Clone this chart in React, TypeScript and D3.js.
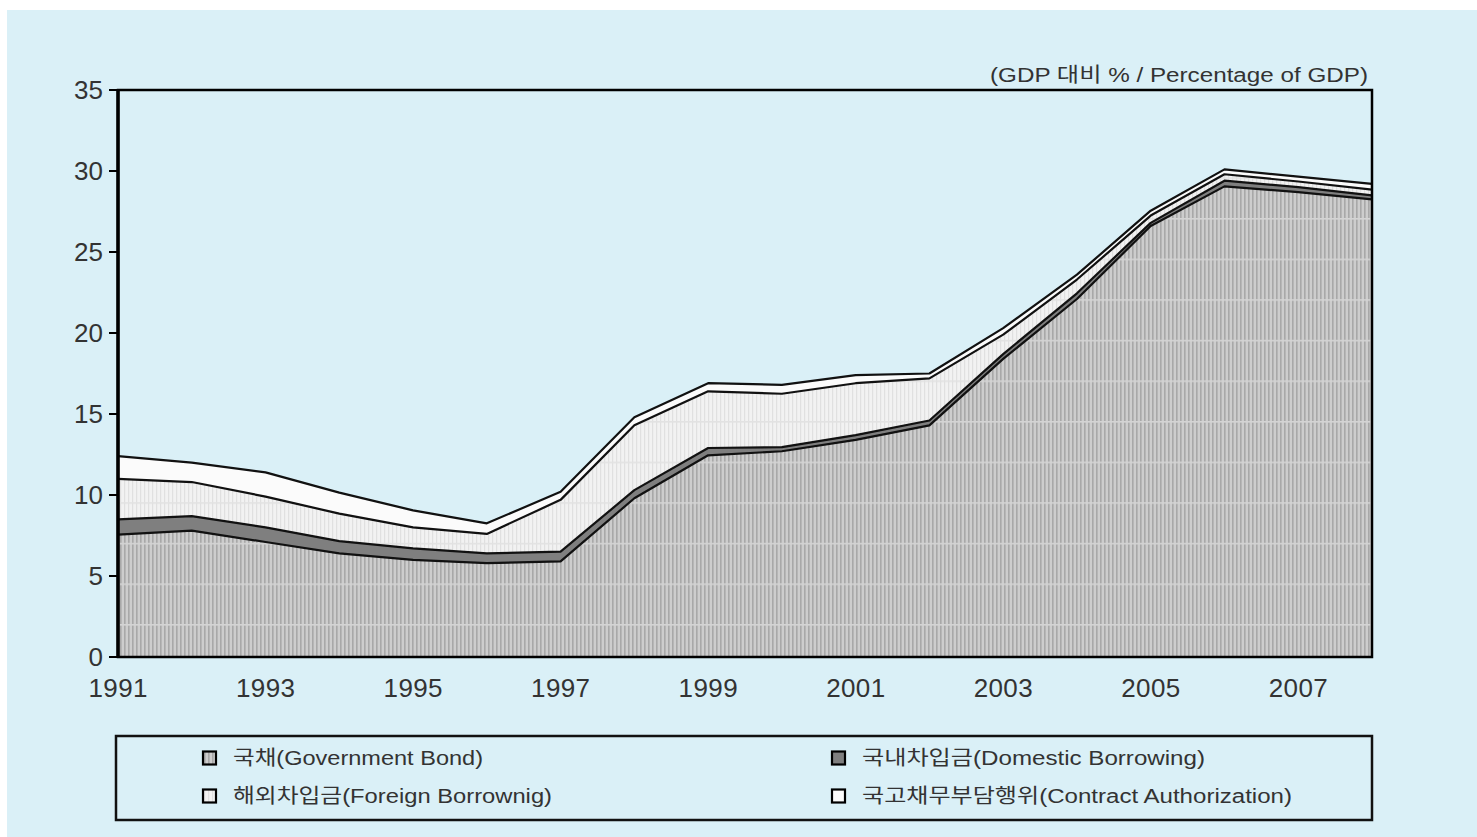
import React, { useEffect, useRef } from "react";
import * as d3 from "d3";

// years on the x axis
const years = [1991, 1992, 1993, 1994, 1995, 1996, 1997, 1998, 1999, 2000, 2001, 2002, 2003, 2004, 2005, 2006, 2007, 2008];
// % of GDP, each layer stacked on the previous one
const govBond = [7.55, 7.8, 7.1, 6.4, 6.0, 5.8, 5.9, 9.8, 12.45, 12.7, 13.4, 14.3, 18.4, 22.1, 26.6, 29.05, 28.7, 28.25];
const domesticBorrowing = [0.95, 0.9, 0.9, 0.75, 0.7, 0.6, 0.6, 0.5, 0.45, 0.25, 0.3, 0.3, 0.3, 0.35, 0.2, 0.35, 0.3, 0.25];
const foreignBorrowing = [2.5, 2.1, 1.9, 1.7, 1.3, 1.2, 3.2, 4.0, 3.5, 3.3, 3.2, 2.6, 1.2, 0.85, 0.45, 0.4, 0.35, 0.35];
const contractAuth = [1.4, 1.2, 1.5, 1.3, 1.05, 0.65, 0.5, 0.5, 0.5, 0.55, 0.5, 0.3, 0.4, 0.3, 0.3, 0.3, 0.3, 0.35];

const yTicks = [0, 5, 10, 15, 20, 25, 30, 35];
const xTickYears = [1991, 1993, 1995, 1997, 1999, 2001, 2003, 2005, 2007];
const unitLabel = "(GDP 대비 % / Percentage of GDP)";
const legendLabels = [
  "국채(Government Bond)",
  "국내차입금(Domestic Borrowing)",
  "해외차입금(Foreign Borrownig)",
  "국고채무부담행위(Contract Authorization)",
];
// the original font is wider, so stretch text to the widths seen in the picture
const legendWidths = [250, 343, 319, 430];

const keys = ["gov", "dom", "foreign", "contract"];
const fills = ["url(#pGov)", "#7f7f7f", "url(#pForeign)", "#fbfbfb"];
const font = "'Liberation Sans', 'Noto Sans CJK KR', Arial, sans-serif";

const App = () => {
  const svgRef = useRef<SVGSVGElement>(null);

  useEffect(() => {
    const svg = d3.select(svgRef.current);
    svg.selectAll("*").remove();

    const left = 118, right = 1372, top = 90, bottom = 657;

    const x = d3.scaleLinear().domain([1991, 2008]).range([left, right]);
    const y = d3.scaleLinear().domain([0, 35]).range([bottom, top]);

    const rows = years.map((yr, i) => ({
      year: yr,
      gov: govBond[i],
      dom: domesticBorrowing[i],
      foreign: foreignBorrowing[i],
      contract: contractAuth[i],
    }));
    const series = d3.stack<any>().keys(keys)(rows);

    // patterns
    const defs = svg.append("defs");
    const pg = defs.append("pattern").attr("id", "pGov")
      .attr("patternUnits", "userSpaceOnUse")
      .attr("width", 4).attr("height", 40.6).attr("y", 15);
    pg.append("rect").attr("width", 4).attr("height", 40.6).attr("fill", "#c4c4c4");
    pg.append("rect").attr("width", 1.5).attr("height", 40.6).attr("fill", "#a8a8a8");
    pg.append("rect").attr("x", 2.5).attr("width", 1).attr("height", 40.6).attr("fill", "#d6d6d6");
    pg.append("rect").attr("width", 4).attr("height", 1.6).attr("fill", "#d4d4d4");

    const pf = defs.append("pattern").attr("id", "pForeign")
      .attr("patternUnits", "userSpaceOnUse")
      .attr("width", 4).attr("height", 40.6).attr("y", 15);
    pf.append("rect").attr("width", 4).attr("height", 40.6).attr("fill", "#f2f2f2");
    pf.append("rect").attr("width", 1.2).attr("height", 40.6).attr("fill", "#e0e0e0");
    pf.append("rect").attr("width", 4).attr("height", 1.6).attr("fill", "#e2e2e2");

    // background
    svg.append("rect").attr("width", 1477).attr("height", 837).attr("fill", "#ffffff");
    svg.append("rect").attr("x", 7).attr("y", 10).attr("width", 1470).attr("height", 827).attr("fill", "#daf0f7");

    // areas
    const area = d3.area<any>()
      .x((d) => x(d.data.year))
      .y0((d) => y(d[0]))
      .y1((d) => y(d[1]));
    const topLine = d3.line<any>()
      .x((d) => x(d.data.year))
      .y((d) => y(d[1]));

    svg.append("g").selectAll("path")
      .data(series)
      .join("path")
      .attr("d", area as any)
      .attr("fill", (_d, i) => fills[i]);

    svg.append("g").selectAll("path")
      .data(series)
      .join("path")
      .attr("d", topLine as any)
      .attr("fill", "none")
      .attr("stroke", "#111")
      .attr("stroke-width", 2.2)
      .attr("stroke-linejoin", "round");

    // plot frame
    svg.append("rect")
      .attr("x", left).attr("y", top)
      .attr("width", right - left).attr("height", bottom - top)
      .attr("fill", "none").attr("stroke", "#000").attr("stroke-width", 2.5);
    svg.append("line").attr("x1", left).attr("x2", left).attr("y1", top - 1).attr("y2", bottom + 1)
      .attr("stroke", "#000").attr("stroke-width", 3.5);

    // y axis
    const yAxis = svg.append("g").attr("font-family", font).attr("font-size", 26).attr("fill", "#333");
    yTicks.forEach((t) => {
      yAxis.append("line").attr("x1", left - 9).attr("x2", left).attr("y1", y(t)).attr("y2", y(t))
        .attr("stroke", "#000").attr("stroke-width", 2);
      yAxis.append("text").attr("x", left - 15).attr("y", y(t)).attr("dy", "0.35em")
        .attr("text-anchor", "end").text(t);
    });

    // x axis
    const xAxis = svg.append("g").attr("font-family", font).attr("font-size", 26).attr("fill", "#333");
    xTickYears.forEach((yr) => {
      xAxis.append("text").attr("x", x(yr)).attr("y", 697)
        .attr("text-anchor", "middle").attr("textLength", 59).attr("lengthAdjust", "spacing").text(yr);
    });

    // unit label
    svg.append("text").attr("x", 990).attr("y", 82)
      .attr("font-family", font).attr("font-size", 20)
      .attr("textLength", 378).attr("lengthAdjust", "spacingAndGlyphs")
      .attr("fill", "#333").text(unitLabel);

    // legend
    const lg = svg.append("g");
    lg.append("rect").attr("x", 116).attr("y", 736).attr("width", 1256).attr("height", 84)
      .attr("fill", "none").attr("stroke", "#111").attr("stroke-width", 2.5);
    const legendPos = [
      [203, 758], [832, 758], [203, 796], [832, 796],
    ];
    keys.forEach((_k, k) => {
      const [lx, ly] = legendPos[k];
      lg.append("rect").attr("x", lx).attr("y", ly - 6.5).attr("width", 13).attr("height", 13)
        .attr("fill", fills[k]).attr("stroke", "#000").attr("stroke-width", 2.2);
      lg.append("text").attr("x", lx + 30).attr("y", ly).attr("dy", "0.36em")
        .attr("font-family", font).attr("font-size", 20).attr("fill", "#333")
        .attr("textLength", legendWidths[k]).attr("lengthAdjust", "spacingAndGlyphs")
        .text(legendLabels[k]);
    });
  }, []);

  return (
    <svg ref={svgRef} width={1477} height={837}
      style={{ position: "absolute", left: 0, top: 0, display: "block" }} />
  );
};

export default App;
